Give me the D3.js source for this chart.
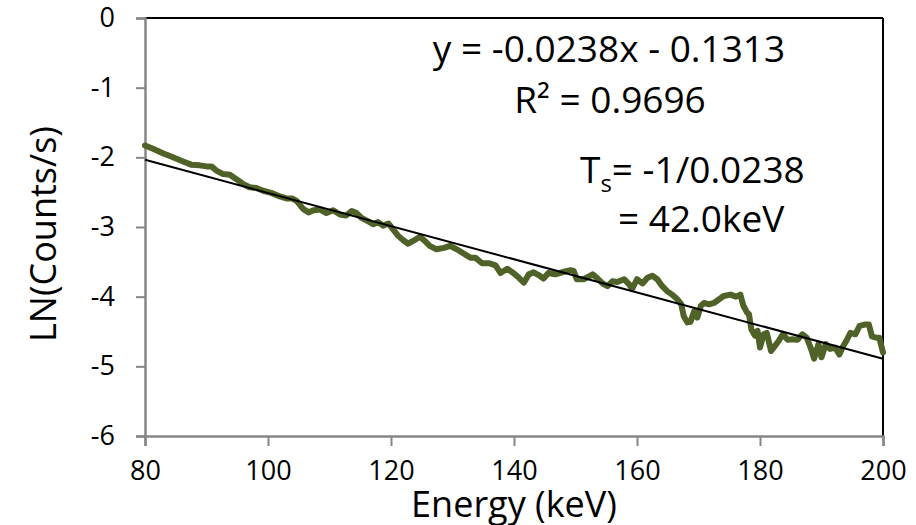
<!DOCTYPE html>
<html>
<head>
<meta charset="utf-8">
<script src="https://cdn.jsdelivr.net/npm/d3@7"></script>
<style>
  html, body { margin: 0; padding: 0; background: #fff; }
  svg text { font-family: "Open Sans", "Noto Sans", sans-serif; fill: #000; }
</style>
</head>
<body>
<div id="chart"></div>
<script>
const energy = [80, 81.3, 82.9, 84.55, 86.2, 87.5, 88.9, 90, 90.8, 91.6, 92.7, 93.8, 94.8, 95.9, 97, 98.1, 99.2,
  100.5, 101.9, 103, 103.9, 104.7, 105.7, 106.6, 107.4, 108.5, 109.5, 110.6, 111.7, 112.7, 113.6, 114.4, 115.2,
  116.3, 117.1, 117.9, 118.7, 119.6, 120.4, 121.2, 122, 122.8, 123.6, 124.7, 125.5, 126.3, 127.4, 128.6, 129.6,
  130.7, 131.8, 132.9, 133.7, 134.8, 135.9, 137, 137.8, 138.9, 139.9, 140.8, 141.6, 142.4, 143.2, 144, 144.8,
  145.6, 146.7, 147.8, 149.2, 149.7, 150.2, 151.3, 152.2, 152.8, 153.6, 154.4, 155.2, 156, 156.8, 157.9, 158.7,
  159.2, 160, 160.9, 161.7, 162.5, 163.3, 164.1, 164.9, 165.7, 166.6, 167.2, 167.6, 168.2, 168.7, 169.3, 169.8,
  170.4, 170.9, 171.7, 172.5, 173.3, 174.1, 175.2, 176.1, 176.8, 177.3, 177.9, 178.2, 178.6, 179.2, 179.6, 180,
  180.6, 181.1, 181.8, 182.4, 183, 183.7, 184.5, 185.3, 186.1, 186.9, 187.6, 188.3, 188.8, 189.5, 190, 190.7,
  191.4, 192.2, 192.9, 193.4, 194, 194.7, 195.5, 196.2, 197, 197.7, 198.2, 198.9, 199.4, 200];
const lnCounts = [-1.83, -1.876, -1.94, -2.00, -2.06, -2.105, -2.115, -2.13, -2.13, -2.19, -2.24, -2.25, -2.31, -2.38, -2.43, -2.44, -2.48,
  -2.51, -2.56, -2.59, -2.59, -2.63, -2.74, -2.79, -2.76, -2.75, -2.80, -2.76, -2.82, -2.835, -2.77, -2.80, -2.87,
  -2.92, -2.96, -2.93, -2.98, -2.95, -3.04, -3.13, -3.19, -3.24, -3.20, -3.14, -3.20, -3.27, -3.32, -3.30, -3.27,
  -3.32, -3.38, -3.44, -3.44, -3.52, -3.52, -3.55, -3.66, -3.60, -3.66, -3.73, -3.80, -3.68, -3.65, -3.69, -3.74,
  -3.66, -3.68, -3.65, -3.62, -3.63, -3.75, -3.75, -3.71, -3.68, -3.74, -3.81, -3.85, -3.78, -3.79, -3.75, -3.82,
  -3.89, -3.75, -3.81, -3.73, -3.70, -3.75, -3.85, -3.92, -3.97, -4.04, -4.11, -4.28, -4.37, -4.36, -4.21, -4.30,
  -4.13, -4.09, -4.11, -4.09, -4.04, -3.99, -3.97, -4.00, -3.97, -4.13, -4.23, -4.25, -4.47, -4.56, -4.49, -4.73,
  -4.54, -4.52, -4.78, -4.71, -4.64, -4.54, -4.62, -4.61, -4.62, -4.54, -4.59, -4.75, -4.89, -4.68, -4.87, -4.68,
  -4.75, -4.73, -4.83, -4.73, -4.64, -4.52, -4.54, -4.42, -4.40, -4.40, -4.57, -4.59, -4.59, -4.80];

// linear fit shown on the chart
const fitSlope = -0.0238;
const fitIntercept = -0.1313;
const fitRange = [80, 200];

const xTicks = [80, 100, 120, 140, 160, 180, 200];
const yTicks = [0, -1, -2, -3, -4, -5, -6];

const width = 916;
const height = 525;
const margin = { top: 18, right: 33, bottom: 89, left: 145 };

const svg = d3.select("#chart")
  .append("svg")
  .attr("width", width)
  .attr("height", height)
  .attr("viewBox", [0, 0, width, height]);

svg.append("rect").attr("width", width).attr("height", height).attr("fill", "#fff");

const x = d3.scaleLinear().domain([80, 200]).range([margin.left, width - margin.right]);
const y = d3.scaleLinear().domain([-6, 0]).range([height - margin.bottom, margin.top]);

// frame: top and right are black, axes grey
svg.append("line")
  .attr("x1", x(80)).attr("x2", x(200))
  .attr("y1", y(0)).attr("y2", y(0))
  .attr("stroke", "#000").attr("stroke-width", 2);
svg.append("line")
  .attr("x1", x(200)).attr("x2", x(200))
  .attr("y1", y(0)).attr("y2", y(-6))
  .attr("stroke", "#000").attr("stroke-width", 2);

const xAxis = svg.append("g")
  .attr("transform", `translate(0,${y(-6)})`)
  .call(d3.axisBottom(x).tickValues(xTicks).tickSize(10).tickPadding(8).tickFormat(d3.format("d")));
const yAxis = svg.append("g")
  .attr("transform", `translate(${x(80)},0)`)
  .call(d3.axisLeft(y).tickValues(yTicks).tickSize(9).tickPadding(21).tickFormat(d => d === 0 ? "0" : "-" + Math.abs(d)));

[xAxis, yAxis].forEach(g => {
  g.select(".domain").attr("stroke", "#868686").attr("stroke-width", 2.5);
  g.selectAll(".tick line").attr("stroke", "#868686").attr("stroke-width", 2);
  g.selectAll(".tick text")
    .attr("fill", "#000")
    .style("font-family", '"Open Sans", "Noto Sans", sans-serif')
    .style("font-size", "27px");
});
xAxis.selectAll(".tick text").attr("dy", "0.95em");

// data line
const pts = energy.map((e, i) => [e, lnCounts[i]]);
svg.append("path")
  .datum(pts)
  .attr("fill", "none")
  .attr("stroke", "#4F6228")
  .attr("stroke-width", 6)
  .attr("stroke-linejoin", "round")
  .attr("stroke-linecap", "round")
  .attr("d", d3.line().x(d => x(d[0])).y(d => y(d[1])));

// fit line
svg.append("line")
  .attr("x1", x(fitRange[0])).attr("y1", y(fitSlope * fitRange[0] + fitIntercept))
  .attr("x2", x(fitRange[1])).attr("y2", y(fitSlope * fitRange[1] + fitIntercept))
  .attr("stroke", "#000").attr("stroke-width", 2);

// annotations
const ann = svg.append("g").style("font-size", "37px");
ann.append("text").attr("x", 609).attr("y", 62).attr("text-anchor", "middle")
  .text("y = -0.0238x - 0.1313");
ann.append("text").attr("x", 610).attr("y", 113).attr("text-anchor", "middle")
  .text("R² = 0.9696");
const ts = ann.append("text").attr("x", 580).attr("y", 183);
ts.append("tspan").text("T");
ts.append("tspan").attr("dy", 9).style("font-size", "24px").text("s");
ts.append("tspan").attr("dy", -9).text("= -1/0.0238");
ann.append("text").attr("x", 618).attr("y", 232).text("= 42.0keV");

// axis titles
svg.append("text")
  .attr("x", (x(80) + x(200)) / 2).attr("y", 517)
  .attr("text-anchor", "middle")
  .style("font-size", "36px")
  .text("Energy (keV)");
svg.append("text")
  .attr("transform", `translate(56,234) rotate(-90)`)
  .attr("text-anchor", "middle")
  .style("font-size", "36px")
  .text("LN(Counts/s)");
</script>
</body>
</html>
